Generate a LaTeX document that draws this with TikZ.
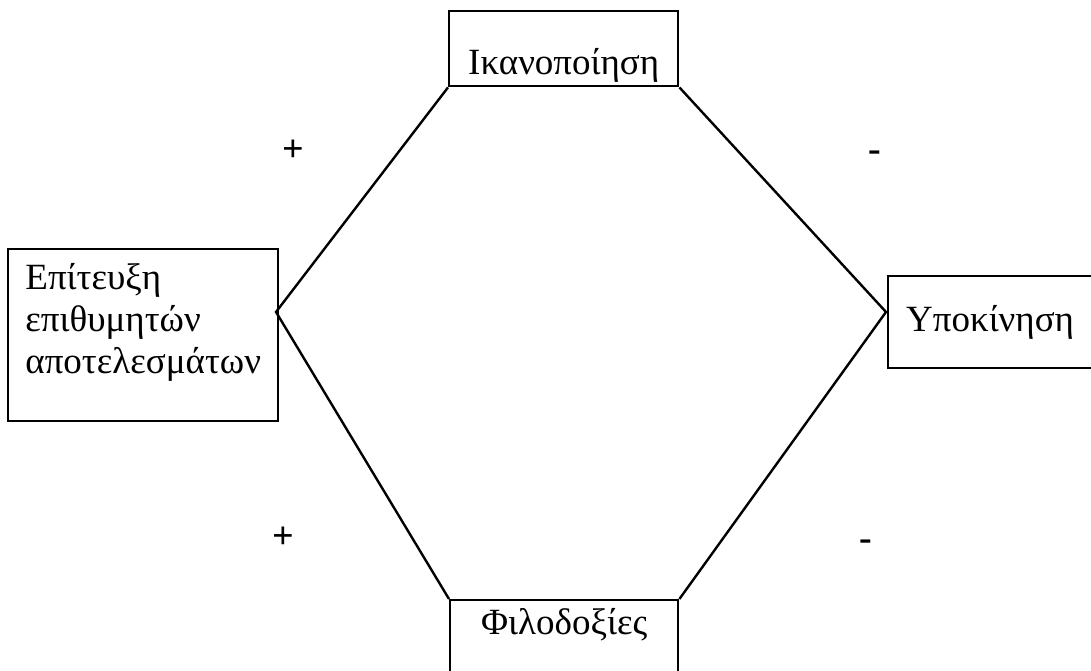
\documentclass[tikz,border=0pt]{standalone}
\usepackage{fontspec}
\setmainfont{Liberation Serif}

\begin{document}
\begin{tikzpicture}[x=1pt, y=-1pt, line width=2.4pt,
    box/.style={draw, inner sep=0pt, anchor=north west,
        font=\fontsize{37}{42}\selectfont},
    sign/.style={inner sep=0pt, anchor=base,
        font=\fontsize{38}{42}\selectfont\bfseries}]
    \useasboundingbox (0, 0) rectangle (1091, 671);
    \node[box, minimum width=229pt, text height=63pt, text depth=12pt]
        (satisfaction) at (448, 10) {Ικανοποίηση};
    \node[box, minimum width=270pt, align=left, text height=124pt, text depth=48pt]
        (achievement) at (7, 248) {Επίτευξη\\επιθυμητών\\αποτελεσμάτων};
    \node[box, text width=200pt, align=left, inner xsep=18pt, text height=55pt, text depth=37pt]
        (motivation) at (887, 275) {Υποκίνηση};
    \node[box, minimum width=228pt, text height=34pt, text depth=80pt]
        (ambitions) at (449, 599) {Φιλοδοξίες};
    \coordinate (lv) at (276, 312);
    \coordinate (rv) at (886, 312);
    \draw
        (satisfaction.south west) -- (lv) -- (ambitions.north west)
        (satisfaction.south east) -- (rv) -- (ambitions.north east);
    \path
        \foreach \p/\s in {
            {293, 161}/+,
            {875, 162}/-,
            {283, 548}/+,
            {866, 550}/-
        } {
            (\p) node[sign] {\s}
        };
\end{tikzpicture}
\end{document}
